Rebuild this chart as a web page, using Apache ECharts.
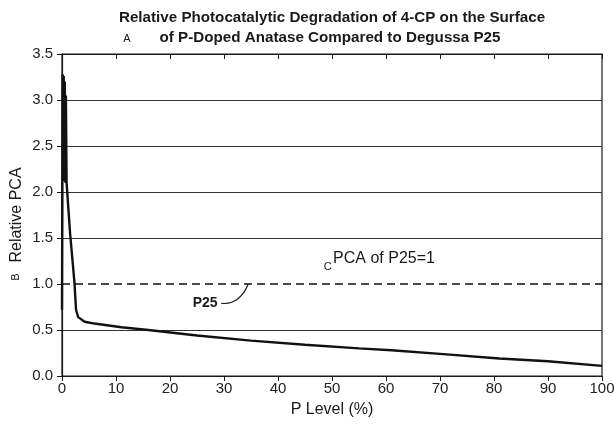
<!DOCTYPE html>
<html>
<head>
<meta charset="utf-8">
<script src="https://cdn.jsdelivr.net/npm/echarts@6/dist/echarts.min.js"></script>
<style>html,body{margin:0;padding:0;background:#fff}#c{width:614px;height:425px}</style>
</head>
<body>
<div id="c"></div>
<script>
// P level (%) and relative PCA for the P-doped anatase curve (dense band near 0 read as oscillation)
const pLevel = [0, 0.12, 0.22, 0.32, 0.42, 0.52, 0.62, 0.72, 0.85, 1.5, 2.3, 2.6, 3.0, 4.2, 6.0, 11, 16, 25, 35, 45, 55, 61, 70, 81, 90, 100];
const relPCA = [0.72, 3.28, 2.15, 3.26, 2.12, 3.2, 2.1, 3.05, 2.1, 1.55, 1.02, 0.72, 0.64, 0.59, 0.57, 0.53, 0.50, 0.44, 0.385, 0.34, 0.30, 0.28, 0.24, 0.19, 0.16, 0.11];
// Reference P25 level
const p25X = [0, 100];
const p25Y = [1, 1];
const titleLines = ['Relative Photocatalytic Degradation of 4-CP on the Surface', 'of P-Doped Anatase Compared to Degussa P25'];
const yTicks = [0, 0.5, 1.0, 1.5, 2.0, 2.5, 3.0, 3.5];
const xTicks = [0, 10, 20, 30, 40, 50, 60, 70, 80, 90, 100];

const font = '"Liberation Sans", Arial, sans-serif';
const ink = '#1a1a1a';
const chart = echarts.init(document.getElementById('c'), null, {renderer: 'canvas'});

const gridCols = yTicks.map(v => v === 1.0 ? 'rgba(0,0,0,0)' : '#333');

chart.setOption({
  animation: false,
  backgroundColor: '#fff',
  grid: {left: 62, right: 12, top: 54, bottom: 49, show: true, borderColor: ink, borderWidth: 1.2, containLabel: false, outerBoundsMode: 'none'},
  xAxis: [{
    type: 'value', min: 0, max: 100, interval: 10,
    name: 'P Level (%)', nameLocation: 'middle', nameGap: 26, nameMoveOverlap: false,
    nameTextStyle: {fontFamily: font, fontSize: 16, color: ink},
    axisLine: {show: true, lineStyle: {color: ink, width: 1.2}},
    axisTick: {show: true, length: 5, lineStyle: {color: ink}},
    axisLabel: {fontFamily: font, fontSize: 15, color: '#222', margin: 5, formatter: v => xTicks.includes(v) ? String(v) : ''},
    splitLine: {show: false}
  }, {
    type: 'value', min: 0, max: 100, interval: 10, position: 'top',
    axisLine: {show: true, lineStyle: {color: ink, width: 1.2}},
    axisTick: {show: true, inside: true, length: 5, lineStyle: {color: ink}},
    axisLabel: {show: false}, splitLine: {show: false}
  }],
  yAxis: [{
    type: 'value', min: 0, max: 3.5, interval: 0.5,
    name: 'Relative PCA', nameLocation: 'middle', nameGap: 37, nameRotate: 90, nameMoveOverlap: false,
    nameTextStyle: {fontFamily: font, fontSize: 16, color: ink},
    axisLine: {show: true, lineStyle: {color: ink, width: 1.2}},
    axisTick: {show: true, length: 5, lineStyle: {color: ink}},
    axisLabel: {fontFamily: font, fontSize: 15, color: '#222', margin: 9, formatter: v => v.toFixed(1)},
    splitLine: {show: true, lineStyle: {color: gridCols, width: 1}}
  }],
  series: [{
    type: 'line', xAxisIndex: 0, yAxisIndex: 0,
    data: pLevel.map((x, i) => [x, relPCA[i]]),
    showSymbol: false, symbol: 'none',
    lineStyle: {color: '#111', width: 2.4}, z: 5
  }, {
    type: 'line', xAxisIndex: 0, yAxisIndex: 0,
    data: p25X.map((x, i) => [x, p25Y[i]]),
    showSymbol: false, symbol: 'none',
    lineStyle: {color: '#111', width: 1.6, type: [8, 5]}, z: 4
  }]
});

function px(x, y) { return chart.convertToPixel({xAxisIndex: 0, yAxisIndex: 0}, [x, y]); }
const lead0 = px(29.5, 0.79), lead1 = px(34.5, 1.0);
const p25Lbl = px(26.5, 0.79);
const pcaLbl = px(50.2, 1.28);
const cLbl = px(49.2, 1.18);

chart.setOption({
  graphic: [
    {type: 'text', x: 332, y: 18, style: {text: titleLines[0], font: 'bold 15.2px ' + font, fill: ink, textAlign: 'center', textVerticalAlign: 'middle'}},
    {type: 'text', x: 330, y: 38, style: {text: titleLines[1], font: 'bold 15.2px ' + font, fill: ink, textAlign: 'center', textVerticalAlign: 'middle'}},
    {type: 'text', x: 127, y: 39, style: {text: 'A', font: '11px ' + font, fill: ink, textAlign: 'center', textVerticalAlign: 'middle'}},
    {type: 'text', x: 16, y: 277, rotation: Math.PI / 2, style: {text: 'B', font: '11px ' + font, fill: ink, textAlign: 'center', textVerticalAlign: 'middle'}},
    {type: 'text', x: cLbl[0], y: cLbl[1], style: {text: 'C', font: '11px ' + font, fill: ink, textAlign: 'center', textVerticalAlign: 'middle'}},
    {type: 'text', x: pcaLbl[0], y: pcaLbl[1], style: {text: 'PCA of P25=1', font: '16px ' + font, fill: ink, textAlign: 'left', textVerticalAlign: 'middle'}},
    {type: 'text', x: p25Lbl[0], y: p25Lbl[1], style: {text: 'P25', font: 'bold 14px ' + font, fill: ink, textAlign: 'center', textVerticalAlign: 'middle'}},
    {type: 'bezierCurve', shape: {x1: lead0[0], y1: lead0[1], x2: lead1[0], y2: lead1[1], cpx1: lead0[0] + 18, cpy1: lead0[1] + 2}, style: {stroke: ink, lineWidth: 1.2, fill: null}}
  ]
});
</script>
</body>
</html>
